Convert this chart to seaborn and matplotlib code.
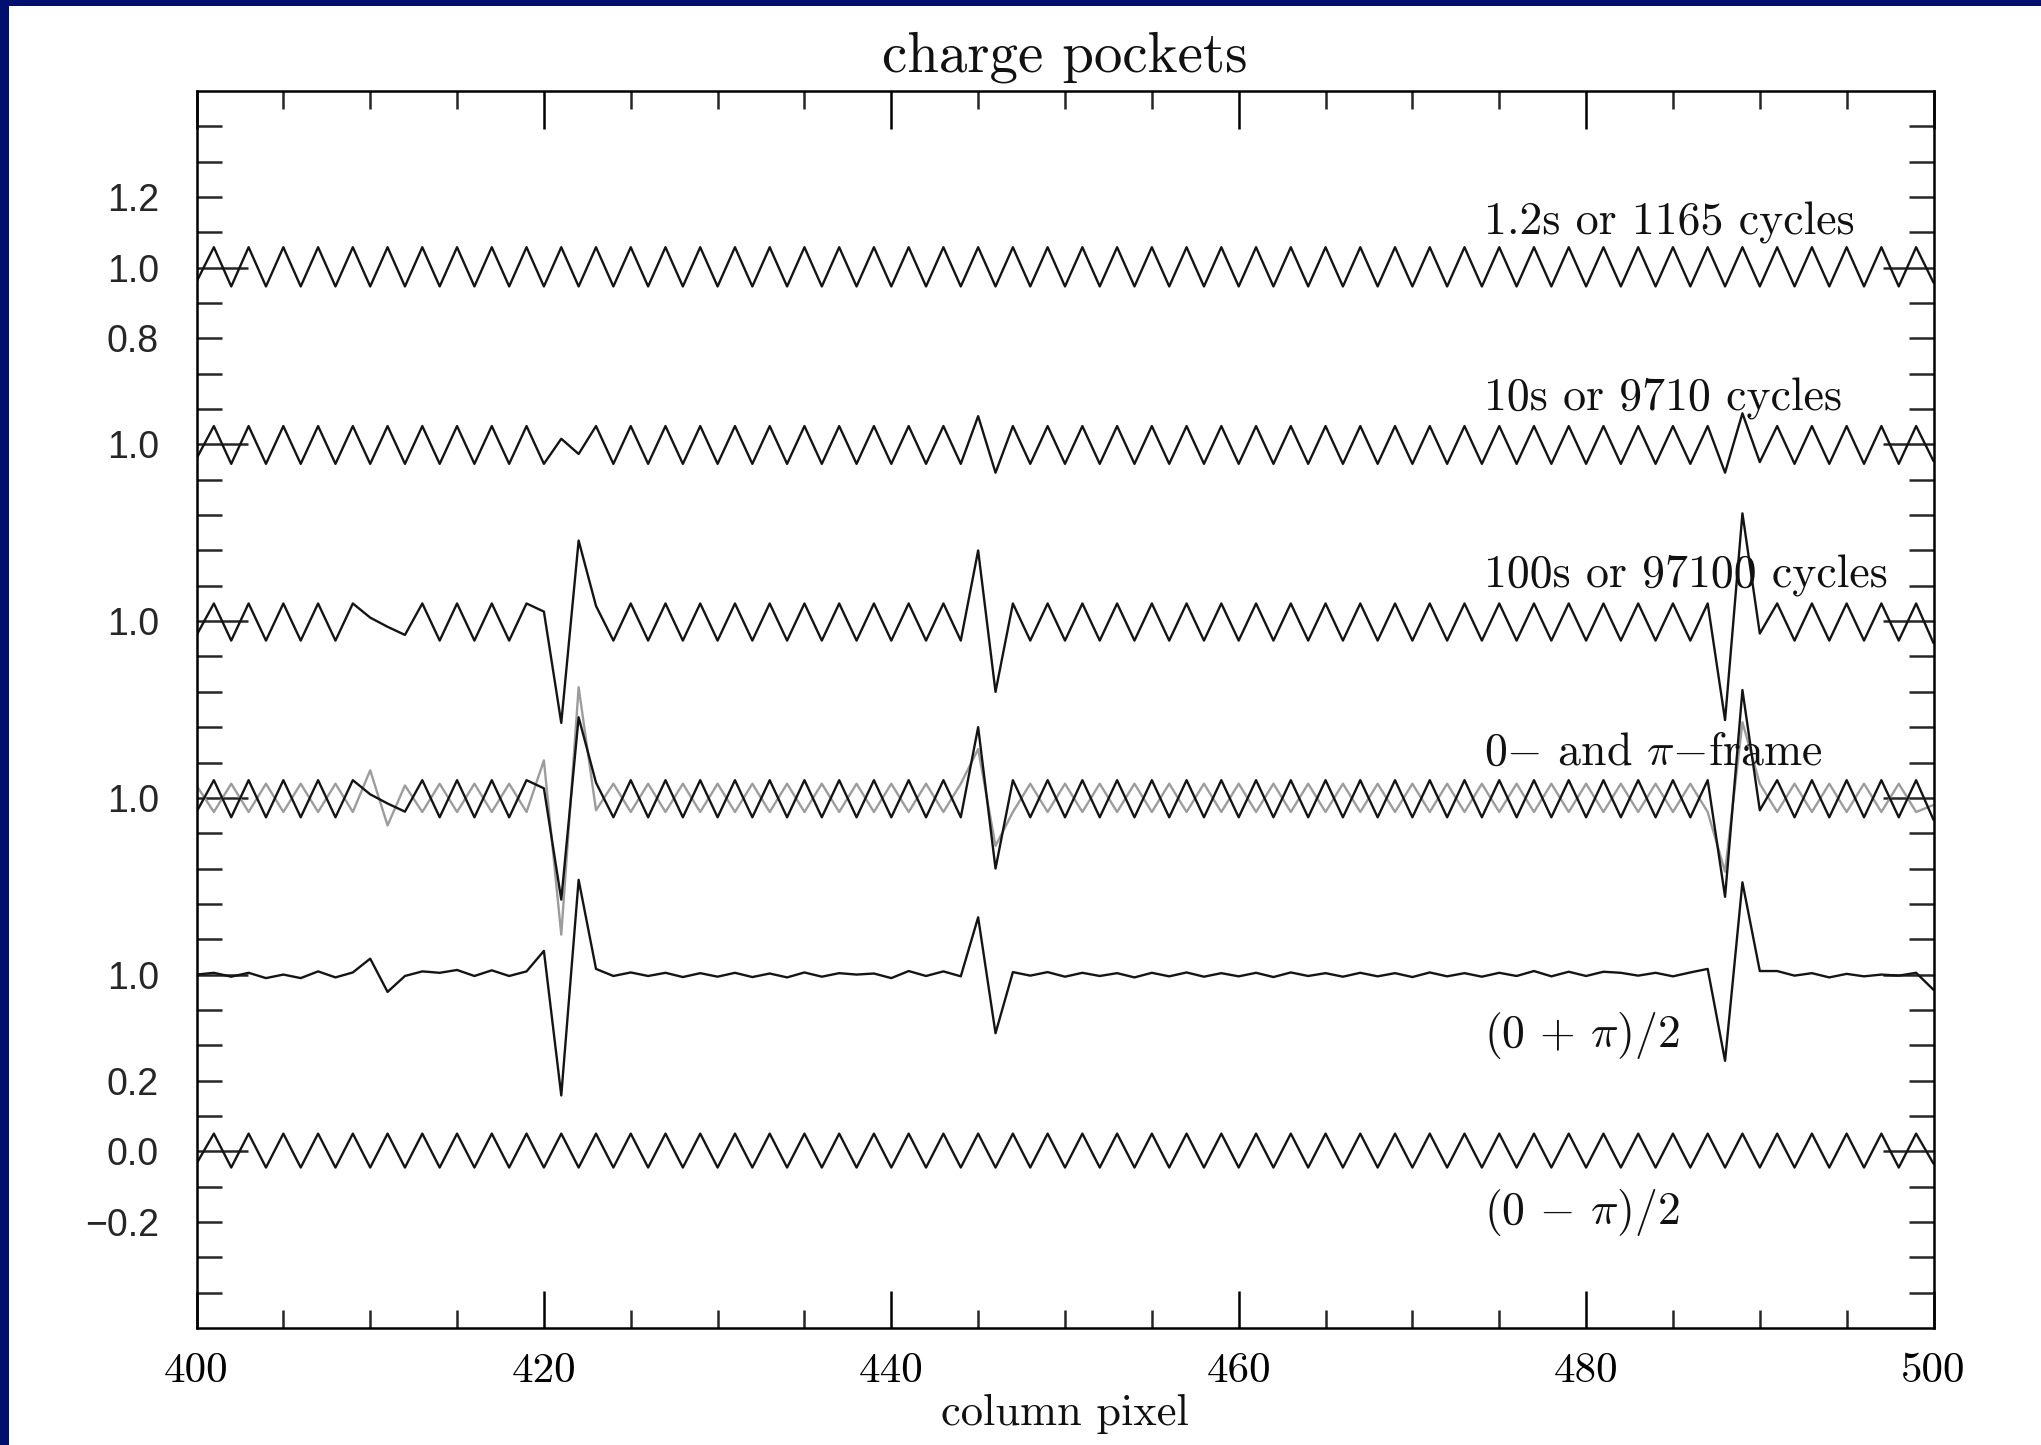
import numpy as np
import pandas as pd
import matplotlib
matplotlib.use("Agg")
import matplotlib.pyplot as plt
from matplotlib.patches import Rectangle
import seaborn as sns

# ---------------------------------------------------------------------------
# Data: normalised signal per column pixel for each exposure / frame
# ---------------------------------------------------------------------------
columns = list(range(400, 501))

ratio_1p2s = [
    0.960, 1.058, 0.947, 1.058, 0.947, 1.058, 0.947, 1.058, 0.947, 1.058,
    0.947, 1.058, 0.947, 1.058, 0.947, 1.058, 0.947, 1.058, 0.947, 1.058,
    0.947, 1.058, 0.947, 1.058, 0.947, 1.058, 0.947, 1.058, 0.947, 1.058,
    0.947, 1.058, 0.947, 1.058, 0.947, 1.058, 0.947, 1.058, 0.947, 1.058,
    0.947, 1.058, 0.947, 1.058, 0.947, 1.058, 0.947, 1.058, 0.947, 1.058,
    0.947, 1.058, 0.947, 1.058, 0.947, 1.058, 0.947, 1.058, 0.947, 1.058,
    0.947, 1.058, 0.947, 1.058, 0.947, 1.058, 0.947, 1.058, 0.947, 1.058,
    0.947, 1.058, 0.947, 1.058, 0.947, 1.058, 0.947, 1.058, 0.947, 1.058,
    0.947, 1.058, 0.947, 1.058, 0.947, 1.058, 0.947, 1.058, 0.947, 1.058,
    0.947, 1.058, 0.947, 1.058, 0.947, 1.058, 0.947, 1.058, 0.947, 1.058,
    0.958,
]

ratio_10s = [
    0.960, 1.052, 0.945, 1.052, 0.945, 1.052, 0.945, 1.052, 0.945, 1.052,
    0.945, 1.052, 0.945, 1.052, 0.945, 1.052, 0.945, 1.052, 0.945, 1.052,
    0.945, 1.016, 0.973, 1.052, 0.945, 1.052, 0.945, 1.052, 0.945, 1.052,
    0.945, 1.052, 0.945, 1.052, 0.945, 1.052, 0.945, 1.052, 0.945, 1.052,
    0.945, 1.052, 0.945, 1.052, 0.945, 1.080, 0.920, 1.052, 0.945, 1.052,
    0.945, 1.052, 0.945, 1.052, 0.945, 1.052, 0.945, 1.052, 0.945, 1.052,
    0.945, 1.052, 0.945, 1.052, 0.945, 1.052, 0.945, 1.052, 0.945, 1.052,
    0.945, 1.052, 0.945, 1.052, 0.945, 1.052, 0.945, 1.052, 0.945, 1.052,
    0.945, 1.052, 0.945, 1.052, 0.945, 1.052, 0.945, 1.052, 0.920, 1.088,
    0.950, 1.052, 0.945, 1.052, 0.945, 1.052, 0.945, 1.052, 0.945, 1.052,
    0.953,
]

# 100 s exposure; this is also the 0-frame of the frame comparison
ratio_100s = [
    0.960, 1.050, 0.945, 1.050, 0.945, 1.050, 0.945, 1.050, 0.945, 1.050,
    1.010, 0.984, 0.961, 1.050, 0.945, 1.050, 0.945, 1.050, 0.945, 1.050,
    1.027, 0.712, 1.228, 1.043, 0.945, 1.050, 0.945, 1.050, 0.945, 1.050,
    0.945, 1.050, 0.945, 1.050, 0.945, 1.050, 0.945, 1.050, 0.945, 1.050,
    0.945, 1.050, 0.945, 1.050, 0.945, 1.200, 0.800, 1.050, 0.945, 1.050,
    0.945, 1.050, 0.945, 1.050, 0.945, 1.050, 0.945, 1.050, 0.945, 1.050,
    0.945, 1.050, 0.945, 1.050, 0.945, 1.050, 0.945, 1.050, 0.945, 1.050,
    0.945, 1.050, 0.945, 1.050, 0.945, 1.050, 0.945, 1.050, 0.945, 1.050,
    0.945, 1.050, 0.945, 1.050, 0.945, 1.050, 0.945, 1.050, 0.720, 1.305,
    0.965, 1.050, 0.945, 1.050, 0.945, 1.050, 0.945, 1.050, 0.945, 1.050,
    0.938,
]

frame_pi = [
    1.035, 0.960, 1.040, 0.960, 1.040, 0.960, 1.040, 0.960, 1.040, 0.960,
    1.078, 0.922, 1.035, 0.960, 1.040, 0.960, 1.040, 0.960, 1.040, 0.960,
    1.106, 0.613, 1.313, 0.965, 1.040, 0.960, 1.040, 0.960, 1.040, 0.960,
    1.040, 0.960, 1.040, 0.960, 1.040, 0.960, 1.040, 0.960, 1.040, 0.960,
    1.040, 0.960, 1.040, 0.960, 1.040, 1.138, 0.864, 0.960, 1.040, 0.960,
    1.040, 0.960, 1.040, 0.960, 1.040, 0.960, 1.040, 0.960, 1.040, 0.960,
    1.040, 0.960, 1.040, 0.960, 1.040, 0.960, 1.040, 0.960, 1.040, 0.960,
    1.040, 0.960, 1.040, 0.960, 1.040, 0.960, 1.040, 0.960, 1.040, 0.960,
    1.040, 0.960, 1.040, 0.960, 1.040, 0.960, 1.040, 0.960, 0.791, 1.214,
    1.040, 0.960, 1.040, 0.960, 1.040, 0.960, 1.040, 0.960, 1.040, 0.960,
    0.980,
]

frame_mean = [
    1.000, 1.005, 0.994, 1.005, 0.990, 1.000, 0.990, 1.009, 0.992, 1.006,
    1.045, 0.951, 0.996, 1.009, 1.005, 1.013, 0.996, 1.012, 0.996, 1.009,
    1.067, 0.658, 1.268, 1.016, 0.996, 1.006, 0.996, 1.005, 0.993, 1.004,
    0.994, 1.005, 0.993, 1.003, 0.992, 1.006, 0.994, 1.004, 1.000, 1.003,
    0.990, 1.010, 0.996, 1.009, 0.995, 1.162, 0.834, 1.007, 0.997, 1.007,
    0.994, 1.005, 0.996, 1.004, 0.992, 1.005, 0.995, 1.006, 0.994, 1.004,
    0.995, 1.005, 0.993, 1.006, 0.996, 1.004, 0.994, 1.005, 0.995, 1.004,
    0.993, 1.006, 0.995, 1.004, 0.994, 1.005, 0.996, 1.010, 0.995, 1.008,
    0.996, 1.008, 1.005, 0.997, 1.005, 0.995, 1.006, 1.016, 0.756, 1.261,
    1.010, 1.010, 0.997, 1.004, 0.992, 1.002, 0.995, 1.000, 0.997, 1.005,
    0.957,
]

frame_half_diff = [
    -0.035, 0.050, -0.046, 0.050, -0.046, 0.050, -0.046, 0.050, -0.046, 0.050,
    -0.046, 0.050, -0.046, 0.050, -0.046, 0.050, -0.046, 0.050, -0.046, 0.050,
    -0.046, 0.050, -0.046, 0.050, -0.046, 0.050, -0.046, 0.050, -0.046, 0.050,
    -0.046, 0.050, -0.046, 0.050, -0.046, 0.050, -0.046, 0.050, -0.046, 0.050,
    -0.046, 0.050, -0.046, 0.050, -0.046, 0.050, -0.046, 0.050, -0.046, 0.050,
    -0.046, 0.050, -0.046, 0.050, -0.046, 0.050, -0.046, 0.050, -0.046, 0.050,
    -0.046, 0.050, -0.046, 0.050, -0.046, 0.050, -0.046, 0.050, -0.046, 0.050,
    -0.046, 0.050, -0.046, 0.050, -0.046, 0.050, -0.046, 0.050, -0.046, 0.050,
    -0.046, 0.050, -0.046, 0.050, -0.046, 0.050, -0.046, 0.050, -0.046, 0.050,
    -0.046, 0.050, -0.046, 0.050, -0.046, 0.050, -0.046, 0.050, -0.046, 0.050,
    -0.035,
]

panel_labels = [
    "1.2s or 1165 cycles",
    "10s or 9710 cycles",
    "100s or 97100 cycles",
    r"0$-$ and $\pi$$-$frame",
    r"(0 $+$ $\pi$)/2",
    r"(0 $-$ $\pi$)/2",
]

x_major_ticks = [400, 420, 440, 460, 480, 500]
y_major_ticks = [0.0, 0.5, 1.0, 1.5, 2.0, 2.5]
y_major_labels = ["0.0", "1.0", "1.0", "1.0", "1.0", "1.0"]
y_extra_ticks = [-0.2, 0.2, 2.3, 2.7]
y_extra_labels = ["\u22120.2", "0.2", "0.8", "1.2"]

# ---------------------------------------------------------------------------
# Style
# ---------------------------------------------------------------------------
sns.set_style("ticks")
plt.rcParams["font.family"] = ["cmr10", "DejaVu Serif"]
plt.rcParams["mathtext.fontset"] = "cm"
plt.rcParams["axes.formatter.use_mathtext"] = True
plt.rcParams["axes.edgecolor"] = "black"

INK = "#141414"
GREY = "#9c9c9c"
LW = 1.7

W, H = 2041, 1445
fig = plt.figure(figsize=(W / 100, H / 100), dpi=100)
fig.patch.set_facecolor("#00106e")
fig.add_artist(Rectangle((9 / W, 0), 1, 1 - 6 / H, transform=fig.transFigure,
                         facecolor="white", edgecolor="none", zorder=-1))

ax_left, ax_right, ax_top, ax_bottom = 196.5, 1933.5, 91, 1328
ax = fig.add_axes([ax_left / W, 1 - ax_bottom / H,
                   (ax_right - ax_left) / W, (ax_bottom - ax_top) / H])
ax.set_facecolor("white")

# stacked panels: (series, vertical position of the reference level, reference level)
panels = [
    (ratio_1p2s, 2.5, 1.0),
    (ratio_10s, 2.0, 1.0),
    (ratio_100s, 1.5, 1.0),
    (ratio_100s, 1.0, 1.0),
    (frame_mean, 0.5, 1.0),
    (frame_half_diff, 0.0, 0.0),
]

# the pi-frame shares the strip of the 0-frame and is drawn underneath it
df_pi = pd.DataFrame({"column": columns, "level": np.array(frame_pi) - 1.0 + 1.0})
sns.lineplot(data=df_pi, x="column", y="level", ax=ax, color=GREY, linewidth=LW)

for values, pos, ref in panels:
    df = pd.DataFrame({"column": columns, "level": np.array(values) - ref + pos})
    sns.lineplot(data=df, x="column", y="level", ax=ax, color=INK, linewidth=LW)

# annotation for every strip
label_x = 474.1
for i, (txt, (_, pos, _)) in enumerate(zip(panel_labels, panels)):
    dy = 0.095 if i < 4 else -0.205
    ax.text(label_x, pos + dy, txt, ha="left", va="baseline", fontsize=33, color="#111111")

ax.set_xlim(400, 500)
ax.set_ylim(-0.5, 3.0)

ax.set_xticks(x_major_ticks)
ax.set_xticklabels([str(v) for v in x_major_ticks])
ax.set_xticks([v for v in range(405, 500, 5) if v % 20 != 0], minor=True)

minor_y = [round(v, 1) for v in np.arange(-0.4, 2.95, 0.1)
           if all(abs(v - m) > 1e-6 for m in y_major_ticks)]
minor_y_labels = []
for v in minor_y:
    lab = ""
    for p, t in zip(y_extra_ticks, y_extra_labels):
        if abs(v - p) < 1e-6:
            lab = t
    minor_y_labels.append(lab)

ax.set_yticks(y_major_ticks)
ax.set_yticklabels(y_major_labels)
ax.set_yticks(minor_y, labels=minor_y_labels, minor=True)

ax.tick_params(axis="x", which="major", direction="in", length=27, width=1.8,
               top=True, bottom=True, pad=18, labelsize=31, colors="black")
ax.tick_params(axis="x", which="minor", direction="in", length=13, width=1.8,
               top=True, bottom=True)
ax.tick_params(axis="y", which="major", direction="in", length=37, width=1.8,
               left=True, right=True, pad=27, labelsize=27,
               labelfontfamily="Liberation Sans")
ax.tick_params(axis="y", which="minor", direction="in", length=18, width=1.8,
               left=True, right=True, pad=27, labelsize=27,
               labelfontfamily="Liberation Sans")

for side in ["left", "right", "top", "bottom"]:
    ax.spines[side].set_visible(True)
    ax.spines[side].set_linewidth(1.8)
    ax.spines[side].set_color("black")

ax.set_xlabel("")
ax.set_ylabel("")
ax.text(0.5, 1.0156, "charge pockets", transform=ax.transAxes, ha="center",
        va="baseline", fontsize=41, color="#111111")
ax.text(0.5, -0.0784, "column pixel", transform=ax.transAxes, ha="center",
        va="baseline", fontsize=32, color="#111111")

fig.savefig("out.png", dpi=100, facecolor=fig.get_facecolor())
